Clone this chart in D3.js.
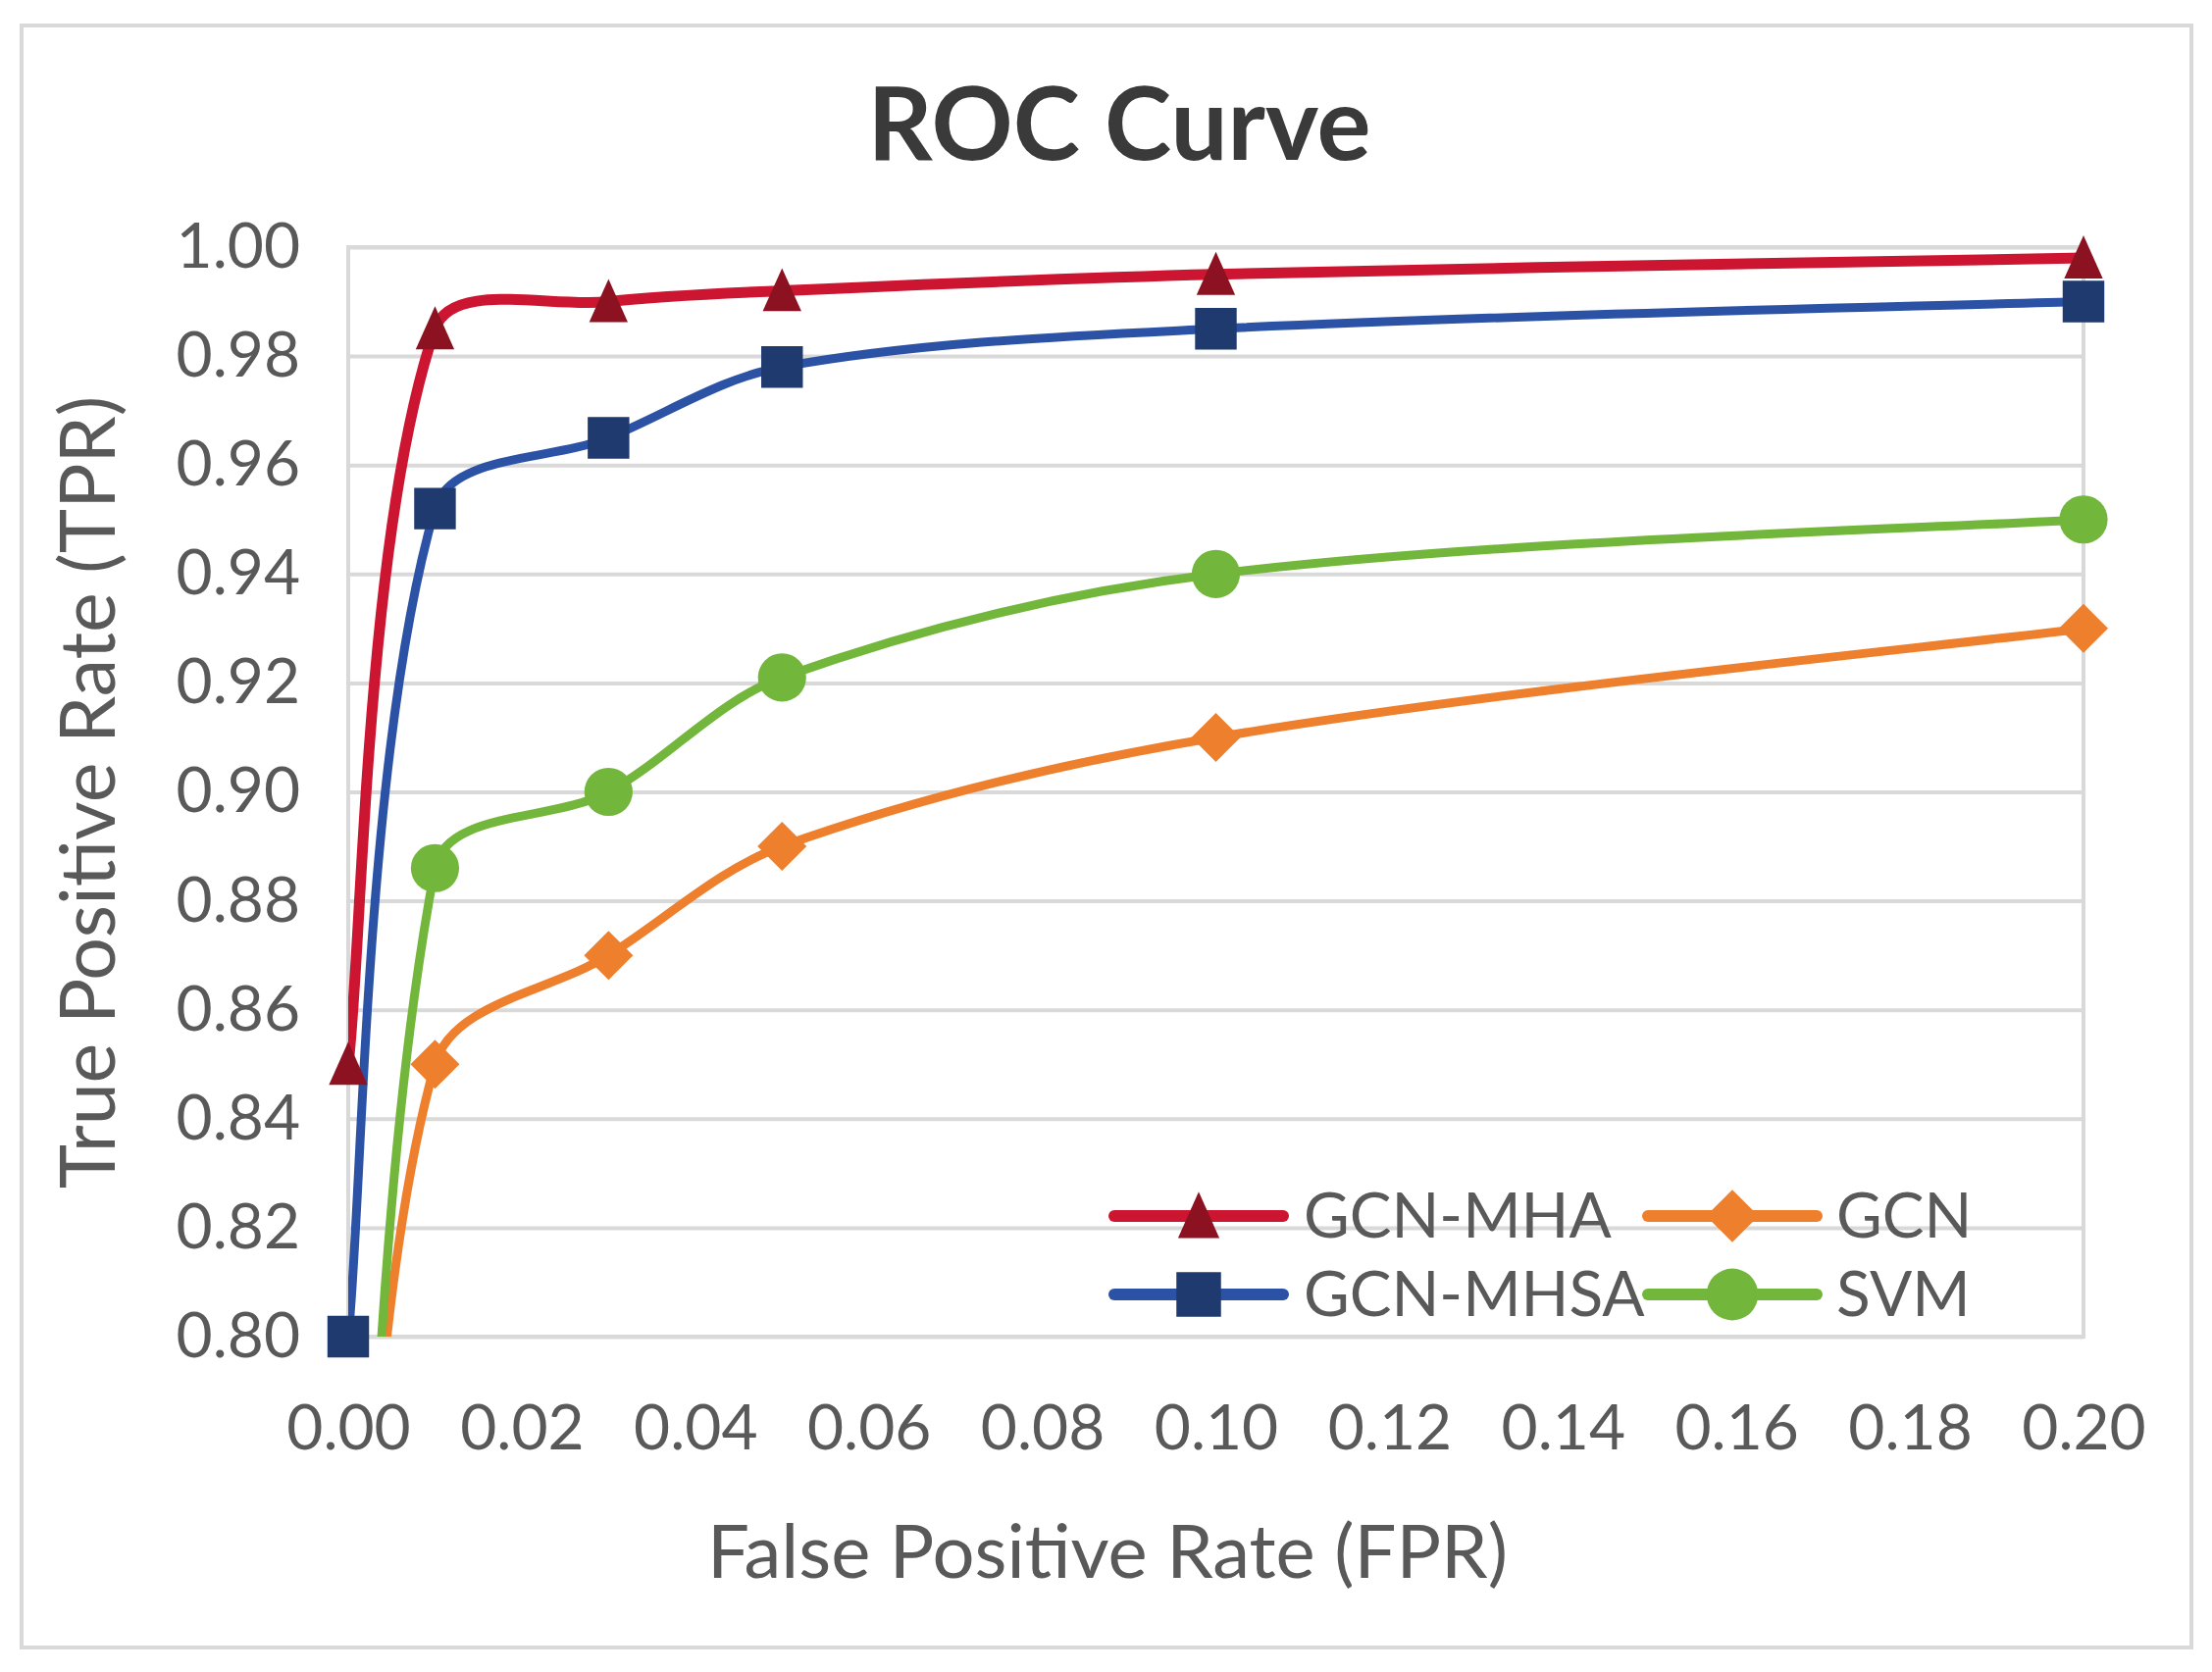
<!DOCTYPE html>
<html>
<head>
<meta charset="utf-8">
<script src="https://cdn.jsdelivr.net/npm/d3@7"></script>
<style>
  body { margin: 0; background: #fff; }
  text { font-family: Lato, "Open Sans", sans-serif; }
</style>
</head>
<body>
<div id="chart"></div>
<script>
// data
var fpr = [0, 0.01, 0.03, 0.05, 0.10, 0.20];
var gcnMha = [0.85, 0.985, 0.990, 0.992, 0.995, 0.998];
var gcnMhsa = [0.80, 0.952, 0.965, 0.978, 0.985, 0.990];
var gcn = [0.70, 0.850, 0.870, 0.890, 0.910, 0.930];
var svm = [0.65, 0.886, 0.900, 0.921, 0.940, 0.950];
var seriesNames = ["GCN-MHA", "GCN-MHSA", "GCN", "SVM"];
var xTicks = [0, 0.02, 0.04, 0.06, 0.08, 0.10, 0.12, 0.14, 0.16, 0.18, 0.20];
var yTicks = [0.80, 0.82, 0.84, 0.86, 0.88, 0.90, 0.92, 0.94, 0.96, 0.98, 1.00];

// first points of GCN / SVM sit under the axis, only their lines show (clipped)
var series = [
  {name: seriesNames[0], values: gcnMha, line: "#cc1530", mark: "#8c1222", shape: "triangle", lw: 11},
  {name: seriesNames[1], values: gcnMhsa, line: "#2c52a5", mark: "#1f3a6e", shape: "square", lw: 9},
  {name: seriesNames[2], values: gcn, line: "#ee7f2d", mark: "#ee7f2d", shape: "diamond", lw: 9, skipFirst: true},
  {name: seriesNames[3], values: svm, line: "#72b73b", mark: "#72b73b", shape: "circle", lw: 9, skipFirst: true}
];

var W = 2255, H = 1705;
var margin = {top: 252, right: 131, bottom: 342, left: 355};
var width = W - margin.left - margin.right,
    height = H - margin.top - margin.bottom;

var svg = d3.select("#chart")
  .append("svg")
  .attr("width", W)
  .attr("height", H);

// outer frame
svg.append("rect")
  .attr("x", 22).attr("y", 26)
  .attr("width", 2212).attr("height", 1654)
  .attr("fill", "none")
  .attr("stroke", "#d9d9d9")
  .attr("stroke-width", 4);

svg.append("text")
  .attr("x", 1141).attr("y", 163)
  .attr("text-anchor", "middle")
  .attr("font-size", 103)
  .attr("font-weight", "bold")
  .attr("fill", "#3a3a3a")
  .text("ROC Curve");

var g = svg.append("g")
  .attr("transform", `translate(${margin.left}, ${margin.top})`);

var x = d3.scaleLinear().domain([0, 0.2]).range([0, width]);
var y = d3.scaleLinear().domain([0.8, 1.0]).range([height, 0]);

// gridlines
var yGrid = g.append("g")
  .call(d3.axisLeft(y).tickValues(yTicks).tickSize(-width).tickFormat(""));
yGrid.select(".domain").remove();
yGrid.selectAll("line").attr("stroke", "#d9d9d9").attr("stroke-width", 4);

g.append("rect")
  .attr("width", width).attr("height", height)
  .attr("fill", "none")
  .attr("stroke", "#d9d9d9")
  .attr("stroke-width", 4);

// tick labels
var yAxis = g.append("g")
  .call(d3.axisLeft(y).tickValues(yTicks).tickSize(0).tickPadding(49).tickFormat(d3.format(".2f")));
yAxis.select(".domain").remove();
yAxis.selectAll("text")
  .attr("font-size", 64)
  .attr("fill", "#595959")
  .style("font-family", "Lato, sans-serif");

var xAxis = g.append("g")
  .attr("transform", `translate(0, ${height})`)
  .call(d3.axisBottom(x).tickValues(xTicks).tickSize(0).tickPadding(70).tickFormat(d3.format(".2f")));
xAxis.select(".domain").remove();
xAxis.selectAll("text")
  .attr("font-size", 64)
  .attr("fill", "#595959")
  .style("font-family", "Lato, sans-serif");

// axis titles
svg.append("text")
  .attr("x", 1129).attr("y", 1609)
  .attr("text-anchor", "middle")
  .attr("font-size", 76)
  .attr("fill", "#595959")
  .text("False Positive Rate (FPR)");

svg.append("text")
  .attr("transform", "translate(117, 808) rotate(-90)")
  .attr("text-anchor", "middle")
  .attr("font-size", 77)
  .attr("fill", "#595959")
  .text("True Positive Rate (TPR)");

// plot clip
g.append("clipPath").attr("id", "plotclip")
  .append("rect").attr("width", width).attr("height", height);

// spreadsheet-style smoothing: bezier handles along (next - prev),
// split by the lengths of the two neighbouring segments
function smoothCurve(context) {
  var pts;
  return {
    areaStart: function() {}, areaEnd: function() {},
    lineStart: function() { pts = []; },
    point: function(px, py) { pts.push([px, py]); },
    lineEnd: function() {
      var n = pts.length;
      if (!n) return;
      context.moveTo(pts[0][0], pts[0][1]);
      if (n == 1) return;
      var dist = (a, b) => Math.hypot(b[0] - a[0], b[1] - a[1]);
      var hin = [], hout = [];
      for (var i = 0; i < n; i++) {
        if (i == 0) {
          hout[i] = [pts[0][0] + (pts[1][0] - pts[0][0]) / 6, pts[0][1] + (pts[1][1] - pts[0][1]) / 6];
        } else if (i == n - 1) {
          hin[i] = [pts[i][0] - (pts[i][0] - pts[i - 1][0]) / 6, pts[i][1] - (pts[i][1] - pts[i - 1][1]) / 6];
        } else {
          var tx = pts[i + 1][0] - pts[i - 1][0], ty = pts[i + 1][1] - pts[i - 1][1];
          var d0 = dist(pts[i - 1], pts[i]), d1 = dist(pts[i], pts[i + 1]);
          var fi = d0 / (d0 + d1) / 3, fo = d1 / (d0 + d1) / 3;
          hin[i] = [pts[i][0] - tx * fi, pts[i][1] - ty * fi];
          hout[i] = [pts[i][0] + tx * fo, pts[i][1] + ty * fo];
        }
      }
      for (var j = 1; j < n; j++) {
        context.bezierCurveTo(hout[j - 1][0], hout[j - 1][1], hin[j][0], hin[j][1], pts[j][0], pts[j][1]);
      }
    }
  };
}

var line = d3.line()
  .x(d => x(d[0]))
  .y(d => y(d[1]))
  .curve(smoothCurve);

var triangle = {
  draw: function(ctx, size) {
    var s = Math.sqrt(size);
    ctx.moveTo(0, -s * 0.55);
    ctx.lineTo(s * 0.47, s * 0.5);
    ctx.lineTo(-s * 0.47, s * 0.5);
    ctx.closePath();
  }
};
var diamond = {
  draw: function(ctx, size) {
    var r = Math.sqrt(size) / 2;
    ctx.moveTo(0, -r);
    ctx.lineTo(r, 0);
    ctx.lineTo(0, r);
    ctx.lineTo(-r, 0);
    ctx.closePath();
  }
};
function markPath(shape, k) {
  k = k || 1;
  if (shape == "triangle") return d3.symbol().type(triangle).size(1750 * k)();
  if (shape == "square") return d3.symbol().type(d3.symbolSquare).size(1800 * k)();
  if (shape == "diamond") return d3.symbol().type(diamond).size(2500 * k)();
  return d3.symbol().type(d3.symbolCircle).size(1900 * k)();
}

// draw in back-to-front order like the picture
var order = [series[2], series[3], series[1], series[0]];
order.forEach(function(s) {
  var pts = fpr.map((v, i) => [v, s.values[i]]);
  g.append("path")
    .datum(pts)
    .attr("clip-path", "url(#plotclip)")
    .attr("fill", "none")
    .attr("stroke", s.line)
    .attr("stroke-width", s.lw)
    .attr("stroke-linejoin", "round")
    .attr("d", line);

  g.selectAll(null)
    .data(s.skipFirst ? pts.slice(1) : pts)
    .enter()
    .append("path")
      .attr("transform", d => `translate(${x(d[0])}, ${y(d[1])})`)
      .attr("d", markPath(s.shape))
      .attr("fill", s.mark);
});

// legend
var legendPos = [
  {x: 1136, y: 1240}, {x: 1136, y: 1320},
  {x: 1680, y: 1240}, {x: 1680, y: 1320}
];
series.forEach(function(s, i) {
  var p = legendPos[i];
  var lg = svg.append("g").attr("transform", `translate(${p.x}, ${p.y})`);
  lg.append("line")
    .attr("x1", 0).attr("x2", 172)
    .attr("stroke", s.line)
    .attr("stroke-width", 12)
    .attr("stroke-linecap", "round");
  lg.append("path")
    .attr("transform", "translate(86, 0)")
    .attr("d", markPath(s.shape, 1.15))
    .attr("fill", s.mark);
  lg.append("text")
    .attr("x", i < 2 ? 193 : 192)
    .attr("dy", "0.35em")
    .attr("font-size", 64)
    .attr("fill", "#595959")
    .text(s.name);
});
</script>
</body>
</html>
